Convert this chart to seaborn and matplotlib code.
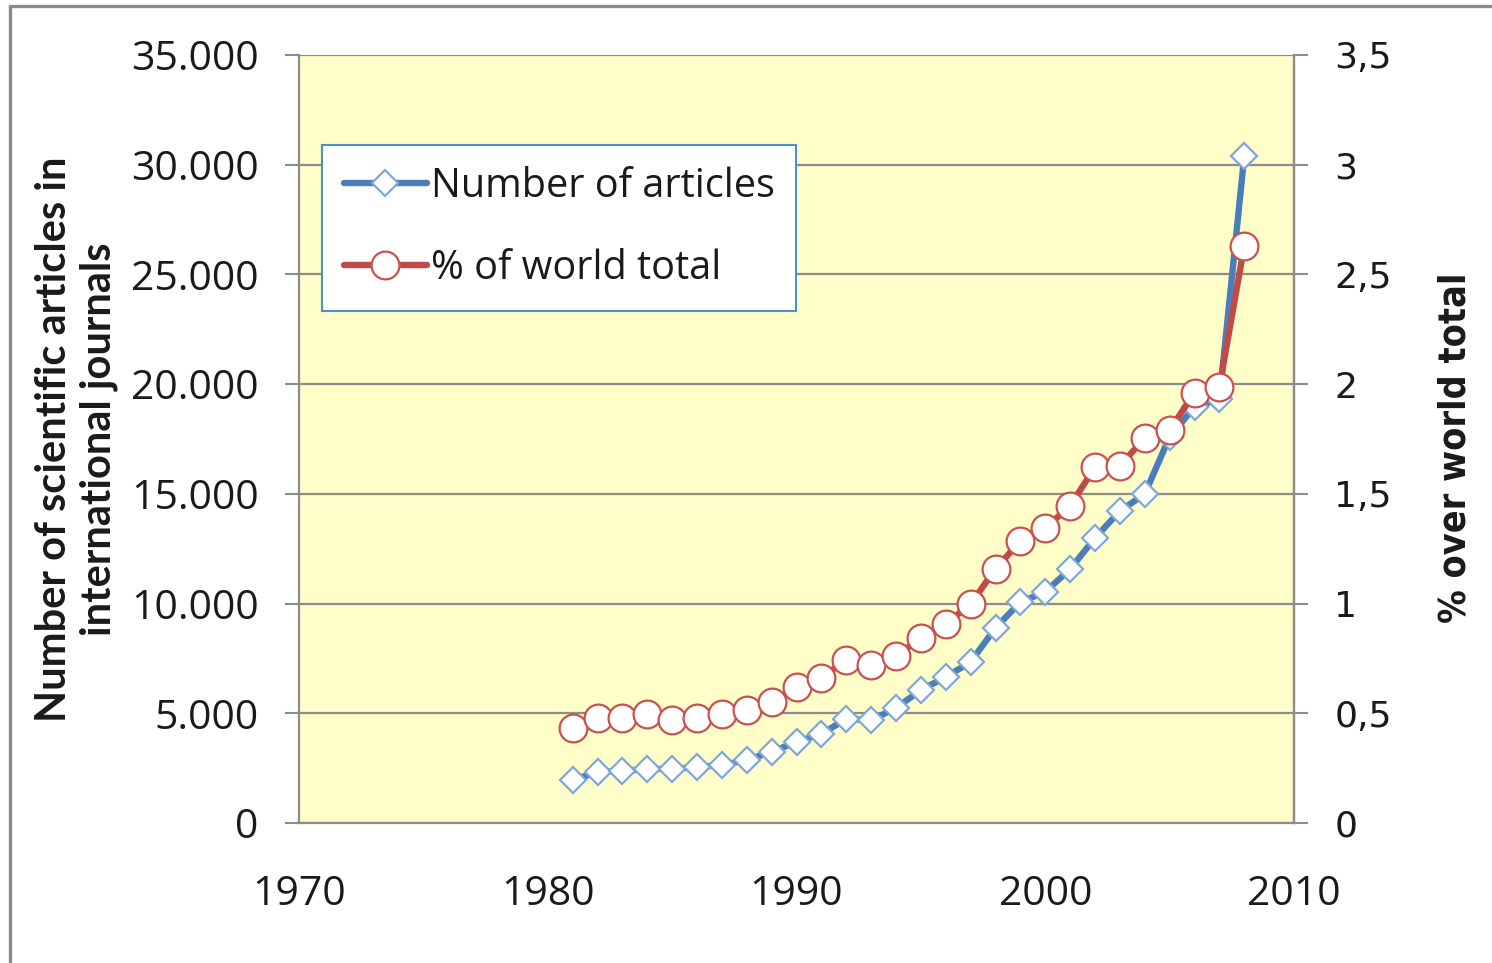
import matplotlib
matplotlib.use("Agg")
import matplotlib.pyplot as plt
from matplotlib.lines import Line2D
from matplotlib.ticker import FixedLocator, FuncFormatter
import seaborn as sns

# Annual output of scientific articles and share of the world total
years = list(range(1981, 2009))
articles = [1960, 2320, 2370, 2460, 2460, 2550, 2640, 2870, 3240, 3690,
            4060, 4740, 4690, 5240, 6060, 6650, 7340, 8890, 10070, 10530,
            11570, 12990, 14220, 14990, 17600, 18960, 19300, 30390]
world_share = [0.433, 0.479, 0.479, 0.497, 0.469, 0.479, 0.497, 0.515, 0.551, 0.620,
               0.661, 0.743, 0.720, 0.761, 0.843, 0.907, 0.998, 1.158, 1.285, 1.344,
               1.445, 1.622, 1.627, 1.755, 1.791, 1.960, 1.987, 2.630]

left_ticks = [0, 5000, 10000, 15000, 20000, 25000, 30000, 35000]
right_ticks = [0, 0.5, 1, 1.5, 2, 2.5, 3, 3.5]
year_ticks = [1970, 1980, 1990, 2000, 2010]

sns.set_theme(style="white")
plt.rcParams["font.family"] = ["Open Sans", "DejaVu Sans"]

BLUE = "#4A7EBB"
BLUE_EDGE = "#7FA8D9"
RED = "#BE4B48"
RED_EDGE = "#C9514E"
GRID = "#8C8C8C"
TXT = "#1A1A1A"

fig = plt.figure(figsize=(14.92, 9.63), dpi=100)
ax = fig.add_axes([0.2004, 0.1454, 0.8673 - 0.2004, 0.9429 - 0.1454])
ax.set_facecolor("#FFFDC8")

sns.lineplot(x=years, y=articles, ax=ax, color=BLUE, linewidth=4.6,
             marker="D", markersize=13.5, markerfacecolor="white",
             markeredgecolor=BLUE_EDGE, markeredgewidth=1.6,
             label="Number of articles", legend=False, zorder=3)

ax.set_xlim(1970, 2010)
ax.set_ylim(0, 35000)
ax.xaxis.set_major_locator(FixedLocator(year_ticks))
ax.yaxis.set_major_locator(FixedLocator(left_ticks))
ax.yaxis.set_major_formatter(FuncFormatter(lambda v, p: f"{int(v):,}".replace(",", ".")))
ax.grid(axis="y", color=GRID, linewidth=1.6, zorder=0)
ax.grid(axis="x", visible=False)
ax.set_axisbelow(True)

for side in ("left", "bottom", "right"):
    ax.spines[side].set_visible(True)
    ax.spines[side].set_color(GRID)
    ax.spines[side].set_linewidth(1.6)
ax.spines["top"].set_visible(False)

ax.tick_params(axis="both", which="major", direction="out", length=10, width=1.5,
               color=GRID, labelsize=29.5, labelcolor=TXT)
ax.tick_params(axis="x", pad=27)
ax.tick_params(axis="y", pad=19)

ax.set_ylabel("Number of scientific articles in\ninternational journals",
              fontsize=30, fontweight="bold", color=TXT, linespacing=1.2,
              family=["Lato", "DejaVu Sans"])
ax.yaxis.set_label_coords(-0.182, 0.50)

# Secondary axis: percentage of world total
ax2 = ax.twinx()
sns.lineplot(x=years, y=world_share, ax=ax2, color=RED, linewidth=4.6,
             marker="o", markersize=20, markerfacecolor="white",
             markeredgecolor=RED_EDGE, markeredgewidth=1.6,
             label="% of world total", legend=False, zorder=4)
ax2.set_ylim(0, 3.5)
ax2.set_xlim(1970, 2010)
ax2.yaxis.set_major_locator(FixedLocator(right_ticks))
ax2.yaxis.set_major_formatter(FuncFormatter(lambda v, p: f"{v:g}".replace(".", ",")))
ax2.grid(False)
for side in ("left", "top", "bottom"):
    ax2.spines[side].set_visible(False)
ax2.spines["right"].set_color(GRID)
ax2.spines["right"].set_linewidth(1.6)
ax2.tick_params(axis="y", direction="out", length=10, width=1.5, color=GRID,
                labelsize=26, labelcolor=TXT, pad=19)
for lbl in ax2.get_yticklabels():
    lbl.set_fontfamily("DejaVu Sans")
ax2.set_ylabel("% over world total", fontsize=27, fontweight="bold", color=TXT,
               family="DejaVu Sans", fontstretch="condensed")
ax2.yaxis.set_label_coords(1.144, 0.488)

h1, l1 = ax.get_legend_handles_labels()
h2, l2 = ax2.get_legend_handles_labels()
leg = ax2.legend(h1 + h2, l1 + l2, loc="upper left",
                 bbox_to_anchor=(0.0231, 0.8828), borderaxespad=0,
                 fontsize=28.5, frameon=True, fancybox=False,
                 handlelength=2.1, handletextpad=0.1, labelspacing=1.05,
                 borderpad=0.55)
leg.get_frame().set_edgecolor("#4F8FCF")
leg.get_frame().set_linewidth(1.5)
leg.get_frame().set_facecolor("white")
leg.get_frame().set_alpha(1)
for t in leg.get_texts():
    t.set_color(TXT)

# Chart-area frame along the top and left edges
fig.add_artist(Line2D([10 / 1492, 1.0], [1 - 6 / 963, 1 - 6 / 963],
                      transform=fig.transFigure, color="#8A8A8A", linewidth=2.4))
fig.add_artist(Line2D([10 / 1492, 10 / 1492], [0.0, 1 - 6 / 963],
                      transform=fig.transFigure, color="#8A8A8A", linewidth=2.4))

fig.savefig("out.png", dpi=100)
